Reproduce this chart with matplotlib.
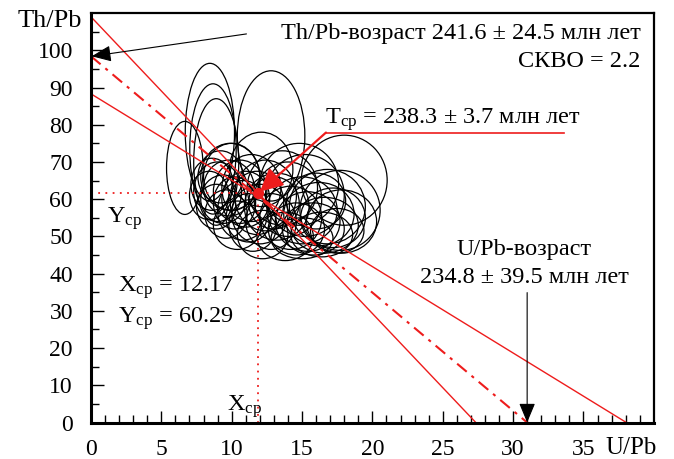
import numpy as np
import matplotlib
matplotlib.use("Agg")
import matplotlib.pyplot as plt
from matplotlib.patches import Ellipse

plt.rcParams["font.family"] = ["Liberation Serif", "DejaVu Serif"]
plt.rcParams["mathtext.fontset"] = "custom"
plt.rcParams["mathtext.rm"] = "Liberation Serif"
plt.rcParams["mathtext.it"] = "Liberation Serif:italic"

# error ellipses: center x (U/Pb), center y (Th/Pb), full width, full height
ell_x = [8.45, 8.67, 8.9, 12.8, 6.67, 18.0, 17.7,
         8.6, 9.0, 9.4, 9.8, 10.2, 8.9, 10.6, 9.2, 10.0, 11.0, 11.4, 10.8, 9.6, 8.4, 11.8,
         12.0, 12.4, 12.8, 13.2, 11.5, 12.2, 13.6, 12.1, 9.9,
         14.2, 14.6, 15.0, 15.4, 15.8, 16.2, 16.6, 14.0, 15.2, 16.8, 17.2, 13.8, 15.0, 17.5, 14.8,
         13.0, 11.2, 16.0, 10.4, 17.8, 16.4]
ell_y = [78.0, 73.5, 70.0, 77.0, 68.4, 65.1, 57.0,
         64.0, 62.0, 60.0, 63.0, 59.0, 58.0, 62.0, 66.0, 66.0, 60.0, 63.0, 57.0, 56.0, 61.0, 59.0,
         56.0, 61.0, 54.0, 58.0, 53.0, 50.5, 63.0, 68.0, 66.0,
         55.0, 52.0, 57.0, 54.0, 52.0, 56.0, 53.0, 60.0, 61.0, 58.0, 55.0, 50.0, 49.5, 51.5, 64.0,
         59.0, 55.0, 59.5, 53.0, 54.0, 50.5]
ell_w = [3.5, 3.3, 3.2, 4.8, 2.6, 6.1, 5.7,
         3.0, 3.4, 3.2, 3.6, 3.0, 2.8, 3.8, 3.2, 4.0, 3.4, 4.2, 3.6, 3.0, 2.8, 3.8,
         4.0, 4.4, 3.6, 4.6, 3.4, 3.6, 5.0, 4.5, 4.2,
         4.4, 4.0, 5.0, 4.6, 4.4, 5.0, 4.8, 4.8, 5.6, 5.4, 4.6, 4.0, 4.4, 3.8, 5.6,
         3.6, 3.2, 4.2, 3.4, 5.0, 4.4]
ell_h = [37.0, 35.0, 34.0, 35.0, 25.0, 24.2, 21.5,
         14.0, 16.0, 13.0, 15.0, 14.0, 12.0, 17.0, 14.0, 18.0, 15.0, 18.0, 16.0, 13.0, 13.0, 17.0,
         16.0, 19.0, 15.0, 18.0, 14.0, 13.0, 20.0, 20.0, 18.0,
         17.0, 14.0, 18.0, 16.0, 14.0, 17.0, 15.0, 20.0, 22.0, 20.0, 16.0, 13.0, 11.0, 12.0, 22.0,
         14.0, 13.0, 15.0, 13.0, 17.0, 12.0]

# regression lines, given by intercepts on both axes
line_y0 = [109.0, 88.3, 98.4]     # upper, lower, mean
line_x0 = [27.35, 38.05, 31.0]

x_cp, y_cp = 11.9, 61.6

fig = plt.figure(figsize=(6.74, 4.59), dpi=100)
ax = fig.add_axes([0.135, 0.0795, 0.835, 0.892])
ax.set_xlim(0, 40)
ax.set_ylim(0, 110)

for x, y, w, h in zip(ell_x, ell_y, ell_w, ell_h):
    ax.add_patch(Ellipse((x, y), w, h, fill=False, ec="black", lw=0.9))

red = "#ee1c1c"
ax.plot([0, line_x0[0]], [line_y0[0], 0], color=red, lw=1.0)
ax.plot([0, line_x0[1]], [line_y0[1], 0], color=red, lw=1.0)
ax.plot([0, line_x0[2]], [line_y0[2], 0], color=red, lw=1.5, ls=(0, (6, 3, 1.5, 3)))

ax.plot([0, x_cp], [y_cp, y_cp], color=red, lw=1.3, ls=(0, (1, 3)))
ax.plot([x_cp, x_cp], [0, y_cp], color=red, lw=1.3, ls=(0, (1, 3)))
ax.plot([x_cp], [y_cp], "o", color=red, ms=7)

# T_cp leader
ax.plot([33.6, 16.7], [77.9, 77.9], color=red, lw=1.2)
ax.annotate("", xy=(12.0, 62.0), xytext=(16.7, 77.9),
            arrowprops=dict(arrowstyle="-|>,head_length=0.7,head_width=0.35",
                            color=red, lw=1.6, mutation_scale=20, shrinkA=0, shrinkB=0))

# black arrows
ax.annotate("", xy=(0.05, 98.4), xytext=(11.05, 104.4),
            arrowprops=dict(arrowstyle="-|>,head_length=0.6,head_width=0.25",
                            color="black", lw=0.8, mutation_scale=20, shrinkA=0, shrinkB=0))
ax.annotate("", xy=(31.0, 0), xytext=(31.0, 34.9),
            arrowprops=dict(arrowstyle="-|>,head_length=0.6,head_width=0.25",
                            color="black", lw=0.8, mutation_scale=20, shrinkA=0, shrinkB=0))

fs = 17.5
ax.text(39.05, 103.1, "Th/Pb-возраст 241.6 ± 24.5 млн лет", ha="right", va="baseline", fontsize=fs)
ax.text(39.05, 95.6, "СКВО = 2.2", ha="right", va="baseline", fontsize=fs)
ax.text(16.6, 80.4, r"T$_{\rm ср}$ = 238.3 ± 3.7 млн лет", ha="left", va="baseline", fontsize=fs)
ax.text(30.8, 45.0, "U/Pb-возраст", ha="center", va="baseline", fontsize=fs)
ax.text(30.8, 37.4, "234.8 ± 39.5 млн лет", ha="center", va="baseline", fontsize=fs)
ax.text(1.94, 35.2, r"X$_{\rm ср}$ = 12.17", ha="left", va="baseline", fontsize=fs)
ax.text(1.94, 26.8, r"Y$_{\rm ср}$ = 60.29", ha="left", va="baseline", fontsize=fs)
ax.text(1.15, 53.7, r"Y$_{\rm ср}$", ha="left", va="baseline", fontsize=fs)
ax.text(9.7, 3.2, r"X$_{\rm ср}$", ha="left", va="baseline", fontsize=fs)

# axis titles sitting in the tick label rows
ax.text(-0.6, 107.8, "Th/Pb", ha="right", va="center", fontsize=19, clip_on=False)
ax.text(36.6, -6.8, "U/Pb", ha="left", va="center", fontsize=18, clip_on=False)

ax.set_xticks(np.arange(0, 36, 5))
ax.set_xticks(np.arange(0, 40, 1), minor=True)
ax.set_yticks(np.arange(0, 101, 10))
ax.set_yticks(np.arange(0, 110, 5), minor=True)
ax.tick_params(which="both", direction="in", width=1.0, labelsize=17)
ax.tick_params(which="major", length=9)
ax.tick_params(which="minor", length=6)
ax.tick_params(axis="y", pad=13)
ax.tick_params(axis="x", pad=12)
ax.spines["left"].set_linewidth(2.2)
ax.spines["bottom"].set_linewidth(2.2)
ax.spines["top"].set_linewidth(1.6)
ax.spines["right"].set_linewidth(1.6)

fig.savefig("out.png", dpi=100)
